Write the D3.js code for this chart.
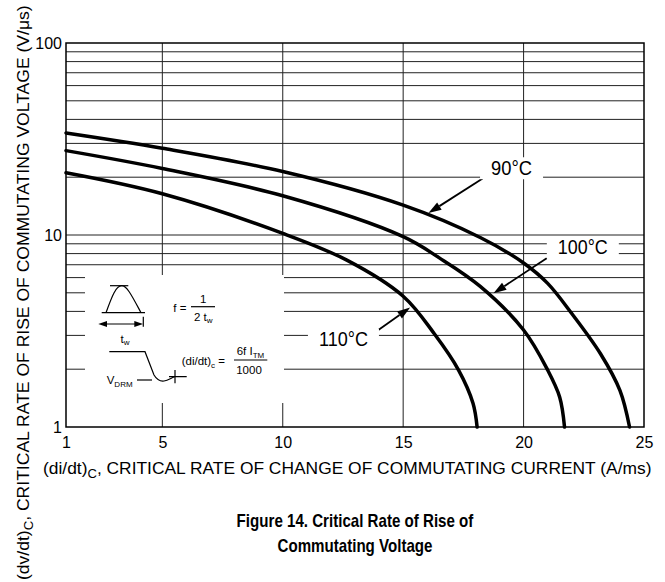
<!DOCTYPE html>
<html>
<head>
<meta charset="utf-8">
<script src="https://cdn.jsdelivr.net/npm/d3@7"></script>
<style>
  body { margin: 0; background: #fff; }
  svg { display: block; font-family: "Liberation Sans", Arial, sans-serif; }
</style>
</head>
<body>
<div id="chart"></div>
<script>
// values: [di/dt (A/ms), dv/dt (V/us)]
const xTicks = [1, 5, 10, 15, 20, 25];
const yTicks = [1, 10, 100];
const tempLabels = ["90°C", "100°C", "110°C"];
const curve90 = [[1, 34], [5, 28.3], [10, 21.4], [15, 14.3], [18.2, 9.7], [20, 7.15], [21, 5.6], [22, 3.9], [23.2, 2.4], [24, 1.55], [24.4, 1]];
const curve100 = [[1, 27.5], [5, 22.2], [10, 16], [15, 9.8], [16.5, 7.6], [18.2, 5.4], [20, 3.2], [21, 1.98], [21.5, 1.43], [21.7, 1]];
const curve110 = [[1, 21.1], [5, 16.4], [10, 10.2], [12.66, 7.4], [15, 4.8], [16.3, 3.05], [17.3, 1.98], [17.9, 1.33], [18.07, 1]];
// label centre, arrow start, arrow tip (data units)
const labelAt = [[19.5, 22.4], [22.46, 8.7], [12.52, 2.86]];
const arrowFrom = [[18.3, 19.7], [20.96, 7.56], [13.97, 3.2]];
const arrowTo = [[16.05, 13.0], [18.75, 4.97], [15.29, 4.19]];

const width = 665, height = 582;
const margin = {top: 43, right: 21, bottom: 155, left: 66};

const x = d3.scaleLinear().domain([1, 25]).range([margin.left, width - margin.right]);
const y = d3.scaleLog().domain([1, 100]).range([height - margin.bottom, margin.top]);

const svg = d3.select("#chart").append("svg")
    .attr("width", width)
    .attr("height", height);

// grid
const grid = svg.append("g").attr("stroke", "#222").attr("stroke-width", 1);
grid.selectAll(".v").data(xTicks.slice(1, -1)).join("line")
    .attr("x1", d => x(d)).attr("x2", d => x(d))
    .attr("y1", y(1)).attr("y2", y(100));
grid.selectAll(".h").data(y.ticks().filter(d => d > 1 && d < 100)).join("line")
    .attr("x1", x(1)).attr("x2", x(25))
    .attr("y1", d => y(d)).attr("y2", d => y(d));

// white inset panel covers the grid in the lower left
const inset = {x: margin.left + 19, y: margin.top + 232, w: 199, h: 128};
svg.append("rect")
    .attr("x", inset.x).attr("y", inset.y)
    .attr("width", inset.w).attr("height", inset.h)
    .attr("fill", "#fff");

// white boxes behind temperature labels
const labelG = svg.append("g");
const labels = labelG.selectAll("text").data(tempLabels).join("text")
    .attr("font-size", 20)
    .attr("text-anchor", "middle")
    .text(d => d);
const labelW = [41, 50, 49];
labels.each(function(d, i) {
    const s = labelW[i] / this.getComputedTextLength();
    const cx = x(labelAt[i][0]), cy = y(labelAt[i][1]);
    d3.select(this).attr("transform", `translate(${cx},${cy + 7}) scale(${s},1)`);
    labelG.insert("rect", "text")
        .attr("x", cx - labelW[i] / 2 - 11).attr("y", cy - 10.5)
        .attr("width", labelW[i] + 22).attr("height", 22)
        .attr("fill", "#fff");
});

// frame
svg.append("rect")
    .attr("x", x(1)).attr("y", y(100))
    .attr("width", x(25) - x(1)).attr("height", y(1) - y(100))
    .attr("fill", "none").attr("stroke", "#000").attr("stroke-width", 1.5);

// curves
const line = d3.line()
    .x(d => x(d[0]))
    .y(d => y(d[1]))
    .curve(d3.curveCatmullRom.alpha(0.5));
svg.append("g")
    .attr("fill", "none").attr("stroke", "#000").attr("stroke-width", 3.5)
    .attr("stroke-linecap", "round")
    .selectAll("path").data([curve90, curve100, curve110]).join("path")
    .attr("d", line);

// arrows
const arrows = svg.append("g");
arrowFrom.forEach((f, i) => {
    const x0 = x(f[0]), y0 = y(f[1]);
    const x1 = x(arrowTo[i][0]), y1 = y(arrowTo[i][1]);
    const a = Math.atan2(y1 - y0, x1 - x0);
    const len = 13, hw = 4.2;
    const bx = x1 - len * Math.cos(a), by = y1 - len * Math.sin(a);
    arrows.append("line")
        .attr("x1", x0).attr("y1", y0).attr("x2", bx).attr("y2", by)
        .attr("stroke", "#000").attr("stroke-width", 1.8);
    arrows.append("path")
        .attr("d", `M${x1},${y1}L${bx - hw * Math.sin(a)},${by + hw * Math.cos(a)}L${bx + hw * Math.sin(a)},${by - hw * Math.cos(a)}Z`)
        .attr("fill", "#000");
});
labelG.raise();

// axes (labels only)
const xAxis = svg.append("g")
    .attr("transform", `translate(0,${y(1)})`)
    .call(d3.axisBottom(x).tickValues(xTicks).tickSize(0).tickPadding(8).tickFormat(d3.format("d")));
xAxis.select(".domain").remove();
xAxis.selectAll("text").attr("font-size", 16).attr("fill", "#000")
    .attr("font-family", "Liberation Sans, Arial, sans-serif")
    .attr("dy", 0).attr("y", 21);

const yAxis = svg.append("g")
    .attr("transform", `translate(${x(1)},0)`)
    .call(d3.axisLeft(y).tickValues(yTicks).tickSize(0).tickPadding(4).tickFormat(d3.format("d")));
yAxis.select(".domain").remove();
yAxis.selectAll("text").attr("font-size", 16).attr("fill", "#000")
    .attr("font-family", "Liberation Sans, Arial, sans-serif")
    .attr("dy", "0.35em");

// axis titles
function fitText(t, w) {
    return w / t.node().getComputedTextLength();
}
const xTitle = svg.append("text").attr("font-size", 16);
xTitle.append("tspan").text("(di/dt)");
xTitle.append("tspan").attr("font-size", 12).attr("dy", 4).text("C");
xTitle.append("tspan").attr("dy", -4).text(", CRITICAL RATE OF CHANGE OF COMMUTATING CURRENT (A/ms)");
xTitle.attr("transform", `translate(43,473.5) scale(${fitText(xTitle, 609)},1)`);

const yTitle = svg.append("text").attr("font-size", 16);
yTitle.append("tspan").text("(dv/dt)");
yTitle.append("tspan").attr("font-size", 12).attr("dy", 4).text("C");
yTitle.append("tspan").attr("dy", -4).text(", CRITICAL RATE OF RISE OF COMMUTATING VOLTAGE (V/μs)");
yTitle.attr("transform", `translate(29,580) rotate(-90) scale(${fitText(yTitle, 575)},1)`);

// caption
const capX = (x(1) + x(25)) / 2;
const cap = svg.append("g").attr("font-weight", "bold").attr("font-size", 18).attr("text-anchor", "middle");
cap.append("text").attr("transform", `translate(${capX},527) scale(0.84,1)`).text("Figure 14. Critical Rate of Rise of");
cap.append("text").attr("transform", `translate(${capX},552) scale(0.84,1)`).text("Commutating Voltage");

// inset schematic
const g = svg.append("g").attr("transform", `translate(${inset.x},${inset.y})`);
const ink = g.append("g").attr("fill", "none").attr("stroke", "#000").attr("stroke-width", 1.2);
ink.append("path").attr("d", "M16.7,37.7H60");
ink.append("path").attr("d", "M25,10.7H43.3");
ink.append("path").attr("d", "M21,37.7C27,21 31,10.7 36.7,10.7C42,10.7 47,21 56,37.7");
ink.append("path").attr("d", "M19,49H52.5");
ink.append("path").attr("d", "M58.3,41.7V51.7");
g.append("path").attr("d", "M13.3,49L22,46L22,52Z");
g.append("path").attr("d", "M58,49L49.3,46L49.3,52Z");
ink.append("path").attr("d", "M24.3,76.7H60L69,100C72,105 75,106.5 79,106C83,105.5 86,103 90,101.5");
ink.append("path").attr("d", "M90,95V108.3M84,101.7H101.7");
ink.append("path").attr("d", "M52,105H67");

const txt = g.append("g").attr("font-size", 11.5).attr("fill", "#000");
const tw = txt.append("text").attr("x", 40).attr("y", 67.7).attr("text-anchor", "middle");
tw.append("tspan").text("t");
tw.append("tspan").attr("font-size", 8).attr("dy", 2.5).text("w");

txt.append("text").attr("x", 88.3).attr("y", 36.7).text("f =");
txt.append("text").attr("x", 118.3).attr("y", 28).attr("text-anchor", "middle").text("1");
ink.append("path").attr("d", "M106,31.7H130");
const den = txt.append("text").attr("x", 118.3).attr("y", 45.7).attr("text-anchor", "middle");
den.append("tspan").text("2 t");
den.append("tspan").attr("font-size", 8).attr("dy", 2.5).text("w");

const vd = txt.append("text").attr("x", 21.7).attr("y", 109);
vd.append("tspan").text("V");
vd.append("tspan").attr("font-size", 8).attr("dy", 2.5).text("DRM");

const didt = txt.append("text").attr("x", 96.7).attr("y", 90);
didt.append("tspan").text("(di/dt)");
didt.append("tspan").attr("font-size", 8).attr("dy", 2.5).text("c");
didt.append("tspan").attr("dy", -2.5).text(" =");

const num = txt.append("text").attr("x", 165.5).attr("y", 80).attr("text-anchor", "middle");
num.append("tspan").text("6f I");
num.append("tspan").attr("font-size", 8).attr("dy", 2.5).text("TM");
ink.append("path").attr("d", "M149,85H182.3");
txt.append("text").attr("x", 164).attr("y", 99).attr("text-anchor", "middle").text("1000");
</script>
</body>
</html>
